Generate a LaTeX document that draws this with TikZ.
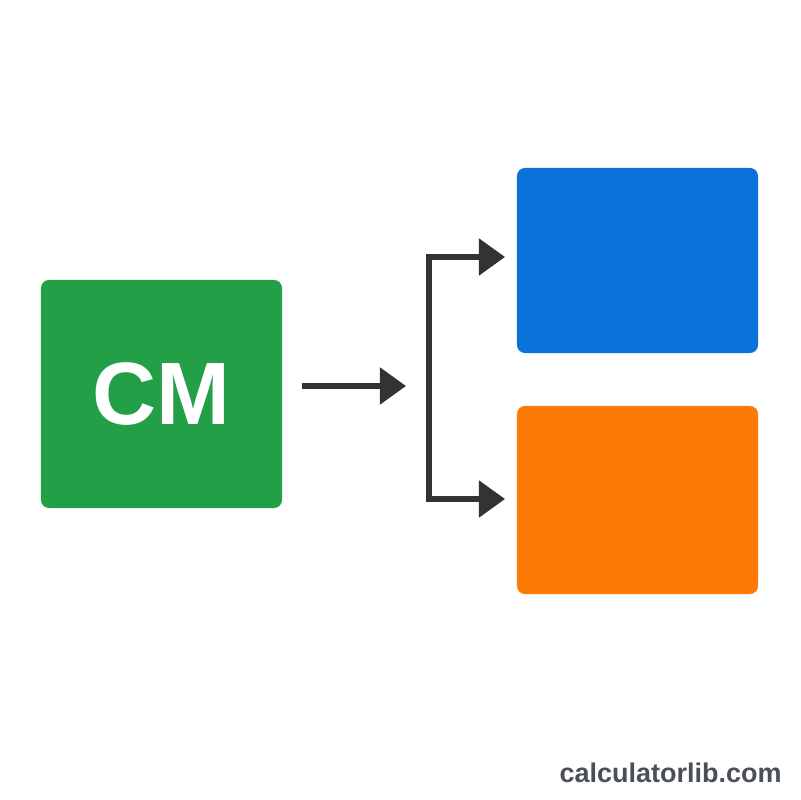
\documentclass[tikz,border=0pt]{standalone}
\usepackage{fontspec}
\setmainfont{Liberation Sans}
\usetikzlibrary{arrows.meta}
\definecolor{cgreen}{HTML}{23A047}
\definecolor{cblue}{HTML}{0A72D8}
\definecolor{corange}{HTML}{FE7A06}
\definecolor{carrow}{HTML}{333333}
\definecolor{cmark}{HTML}{4A4F5A}
\tikzset{
  box/.style={draw=none, rounded corners=5.7pt, inner sep=0pt, outer sep=0pt},
  conn/.style={draw=carrow, line width=3.6pt, line join=miter,
    -{Triangle[length=18.5pt,width=25.6pt]}},
  conn2/.style={draw=carrow, line width=3.6pt, line join=miter,
    {Triangle[length=18.5pt,width=25.6pt]}-{Triangle[length=18.5pt,width=25.6pt]}}
}
\begin{document}
\begin{tikzpicture}[x=0.025cm,y=-0.025cm]
\useasboundingbox[fill=white] (0,0) rectangle (800,800);
\node[box, fill=cgreen, minimum width=241*0.7113pt, minimum height=228*0.7113pt] (green) at (161.5,394) {};
\node[font=\bfseries\fontsize{63}{63}\selectfont, text=white] (cm) at (161.5,394) {CM};
\node[box, fill=cblue, minimum width=241*0.7113pt, minimum height=185*0.7113pt] (blue) at (637.5,260.5) {};
\node[box, fill=corange, minimum width=241*0.7113pt, minimum height=188*0.7113pt] (orange) at (637.5,500) {};
\coordinate (a1s) at (302,386);
\coordinate (a1e) at (406,386);
\coordinate (bt) at (429,257);
\coordinate (bb) at (429,499);
\coordinate (tt) at (505,257);
\coordinate (tb) at (505,499);
\draw[conn] (a1s) -- (a1e);
\draw[conn2] (tt) -- (bt) -- (bb) -- (tb);
\node[font=\bfseries\fontsize{19.2}{19.2}\selectfont, text=cmark, anchor=east, inner sep=0pt] (mark) at (782,773) {calculatorlib.com};
\end{tikzpicture}
\end{document}
